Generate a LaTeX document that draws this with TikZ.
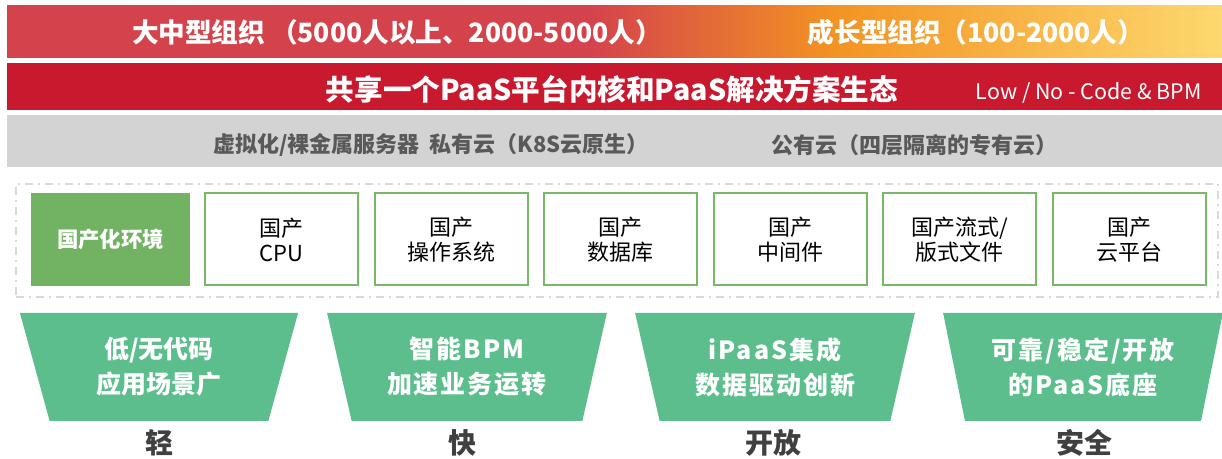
\documentclass[tikz,border=0pt]{standalone}
\usepackage{fontspec}
\setmainfont{Noto Sans CJK SC}
\usepackage{xcolor}
\usetikzlibrary{shapes.geometric, positioning}

\definecolor{bandred}{HTML}{D4434C}
\definecolor{bandorange}{HTML}{F39322}
\definecolor{bandyellow}{HTML}{FDD86E}
\definecolor{corered}{HTML}{C8192E}
\definecolor{cloudgray}{HTML}{D3D3D3}
\definecolor{cloudtext}{HTML}{595959}
\definecolor{framegray}{HTML}{D9D9D9}
\definecolor{boxgreen}{HTML}{78B968}
\definecolor{envgreen}{HTML}{72B263}
\definecolor{funnelgreen}{HTML}{5DBE8D}
\definecolor{labelgray}{HTML}{404040}

\pgfdeclarehorizontalshading{orgshade}{100bp}{color(0bp)=(bandred); color(25bp)=(bandred); color(49bp)=(bandred); color(59bp)=(bandorange); color(75bp)=(bandyellow); color(100bp)=(bandyellow)}

\begin{document}
\begin{tikzpicture}[x=0.5pt, y=-0.5pt]
        % stijlen voor de lagen
        \tikzstyle{band} = [rectangle, inner sep=0pt, outer sep=0pt, minimum width=607.5pt]
        \tikzstyle{bandtext} = [text=white, font=\bfseries\fontsize{13.3}{15}\selectfont]
        \tikzstyle{cloudlabel} = [text=cloudtext, font=\bfseries\fontsize{11}{12}\selectfont]
        \tikzstyle{envbox} = [rectangle, fill=envgreen, minimum width=79.5pt, minimum height=46.5pt, outer sep=0pt, text=white, font=\bfseries\fontsize{10.7}{12.5}\selectfont]
        \tikzstyle{chipbox} = [rectangle, draw=boxgreen, line width=1pt, minimum width=76.5pt, minimum height=46pt, outer sep=0pt, align=center, font=\fontsize{11}{12.5}\selectfont]
        \tikzstyle{funnel} = [trapezium, trapezium angle=74, shape border rotate=180, trapezium stretches=true, minimum width=140pt, minimum height=54pt, inner sep=0pt, fill=funnelgreen, text=white, align=center, font=\bfseries\fontsize{12.5}{17.5}\selectfont]
        \tikzstyle{keyword} = [text=labelgray, font=\bfseries\fontsize{14}{16}\selectfont]

        \useasboundingbox (0,0) rectangle (1222,459);

        % lagen bovenaan
        \node (orgband) [band, minimum height=26pt, shade, shading=orgshade] at (614.5,32) {};
        \node (largeorg) [bandtext] at (397,32) {大中型组织~（5000人以上、2000-5000人）};
        \node (growthorg) [bandtext] at (976,32) {成长型组织（100-2000人）};

        \node (coreband) [band, minimum height=23.5pt, fill=corered] at (614.5,86.5) {};
        \node (coretext) [bandtext, font=\bfseries\fontsize{14.3}{16}\selectfont] at (612,89) {共享一个PaaS平台内核和PaaS解决方案生态};
        \node (lowcode) [text=white, inner sep=0pt, font=\fontsize{10.7}{12}\selectfont, anchor=east] at (1202,93) {Low / No - Code \& BPM};

        \node (cloudband) [band, minimum height=26pt, fill=cloudgray] at (614.5,141) {};
        \node (privatecloud) [cloudlabel] at (431,145) {虚拟化/裸金属服务器~~私有云（K8S云原生）};
        \node (publiccloud) [cloudlabel] at (914,145) {公有云（四层隔离的专有云）};

        % kader met de binnenlandse componenten
        \node (domestic) [draw=framegray, line width=1pt, dash pattern=on 4pt off 2.5pt on 1pt off 2.5pt, minimum width=601pt, minimum height=56.5pt, inner sep=0pt] at (617,240.5) {};
        \node (env) [envbox] at (110.5,239.5) {国产化环境};
        \node (cpu) [chipbox, right=7.5pt of env] {国产\\CPU};
        \node (os) [chipbox, right=8.25pt of cpu] {国产\\操作系统};
        \node (db) [chipbox, right=8.25pt of os] {国产\\数据库};
        \node (middleware) [chipbox, right=8.25pt of db] {国产\\中间件};
        \node (docs) [chipbox, right=8.25pt of middleware] {国产流式/\\版式文件};
        \node (cloud) [chipbox, right=8.25pt of docs] {国产\\云平台};

        % trechters met de kernwaarden
        \node (light) [funnel] at (159,367) {低/无代码\\应用场景广};
        \node (fast) [funnel] at (467,367) {\addfontfeature{LetterSpace=8}智能BPM\\\addfontfeature{LetterSpace=8}加速业务运转};
        \node (open) [funnel] at (775,367) {\addfontfeature{LetterSpace=8}iPaaS集成\\\addfontfeature{LetterSpace=8}数据驱动创新};
        \node (safe) [funnel] at (1083,367) {\addfontfeature{LetterSpace=8}可靠/稳定/开放\\\addfontfeature{LetterSpace=8}的PaaS底座};

        \node (lightlabel) [keyword] at (159,443) {轻};
        \node (fastlabel) [keyword] at (462,443) {快};
        \node (openlabel) [keyword] at (773,443) {开放};
        \node (safelabel) [keyword] at (1084,443) {安全};
\end{tikzpicture}
\end{document}
